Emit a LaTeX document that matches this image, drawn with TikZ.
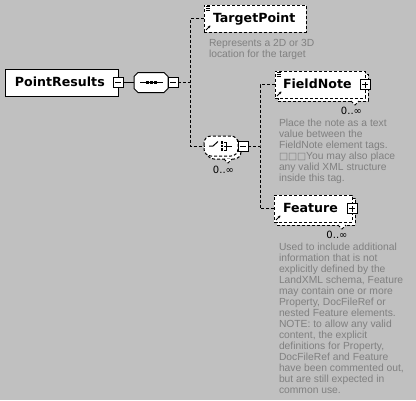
\documentclass[tikz,border=0pt]{standalone}
\usepackage{fontspec}
\setmainfont{Liberation Sans}
\newfontfamily\nmfont{DejaVu Sans}
\usetikzlibrary{arrows.meta}
\definecolor{bgc}{RGB}{192,192,192}
\definecolor{descc}{RGB}{128,128,128}
\newcommand\sq{{\nmfont\fontsize{9.6}{11}\selectfont □}}
\begin{document}
\begin{tikzpicture}[x=1pt,y=-1pt,
  every node/.style={inner sep=0pt, outer sep=0pt},
  ln/.style={line width=1pt},
  dsh/.style={line width=1pt, dash pattern=on 3pt off 2pt},
  ebox/.style={draw, fill=white, line width=1pt, minimum height=27pt},
  nm/.style={font=\nmfont\bfseries\fontsize{12.6}{14}\selectfont, anchor=base west},
  pm/.style={draw, fill=white, line width=1pt, minimum size=10pt},
  minusbox/.style={pm, path picture={\draw[line width=1pt] ([xshift=2pt]path picture bounding box.west) -- ([xshift=-2pt]path picture bounding box.east);}},
  plusbox/.style={pm, path picture={\draw[line width=1pt] ([xshift=2pt]path picture bounding box.west) -- ([xshift=-2pt]path picture bounding box.east) ([yshift=2pt]path picture bounding box.south) -- ([yshift=-2pt]path picture bounding box.north);}},
  desc/.style={font=\fontsize{10.3}{11}\selectfont, text=descc, align=left, anchor=north west},
  occ/.style={font=\nmfont\fontsize{10}{12}\selectfont},
  icl/.style={line width=0.7pt},
  arr/.style={line width=0.9pt, -{Stealth[length=2.6pt,width=2.8pt]}}
]
\fill[bgc] (0,0) rectangle (416,400);
\useasboundingbox (0,0) rectangle (416,400);

% PointResults
\node[ebox, minimum width=113pt] (pr) at (61.5,82.5) {};
\node[nm] (prt) at ([xshift=10pt,yshift=-4pt]pr.west) {PointResults};
\node[minusbox] (prm) at (pr.east) {};

% sequence compositor
\node[minimum width=34pt, minimum height=20pt] (seq) at (151,82.5) {};
\draw[ln, fill=white] ([xshift=4pt]seq.north west) -- ([xshift=-4pt]seq.north east) -- ([yshift=-4pt]seq.north east) -- ([yshift=4pt]seq.south east) -- ([xshift=-4pt]seq.south east) -- ([xshift=4pt]seq.south west) -- ([yshift=4pt]seq.south west) -- ([yshift=-4pt]seq.north west) -- cycle;
\draw[ln] ([xshift=6pt]seq.west) -- ([xshift=-5pt]seq.east);
\foreach \dx in {-4pt,0pt,4pt} \fill ([xshift=\dx]seq.center) ++(-1.5,-1.5) rectangle ++(3,3);
\node[minusbox, anchor=west] (seqm) at (seq.east) {};

% TargetPoint
\node[ebox, dsh, minimum width=102pt] (tp) at (255,18.5) {};
\node[nm] (tpt) at ([xshift=9pt,yshift=-4pt]tp.west) {TargetPoint};
\foreach \yy in {1.8pt,3.4pt,5pt} \draw[icl] ([shift={(1.5pt,-\yy)}]tp.north west) -- ++(4,0);
\draw[arr] ([shift={(2pt,2pt)}]tp.south west) -- ++(4.5,-4.5);
\node[desc] (tpd) at (209,38.9) {Represents a 2D or 3D\\location for the target};

% choice compositor
\node[minimum width=34pt, minimum height=20pt] (ch) at (221,146) {};
\draw[dsh, fill=white, rounded corners=7pt] ([shift={(3pt,-3pt)}]ch.north west) rectangle ([shift={(3pt,-3pt)}]ch.south east);
\draw[dsh, fill=white] ([shift={(-14pt,-3pt)}]ch.south east) -- ++(4,4) -- ++(4,-4);
\draw[dsh, fill=white, rounded corners=7pt] (ch.north west) rectangle (ch.south east);
\draw[ln] (209,146) -- (213,146) -- (218,141.5);
\foreach \yy in {142.5,146,149.5} \fill (220.5,\yy-1.3) rectangle ++(2.6,2.6);
\draw[ln] (224,142) -- (226,142) -- (226,150) -- (224,150) (224,146) -- (232,146);
\node[minusbox, anchor=west] (chm) at (ch.east) {};
\node[occ] (cho) at (223.5,170) {0..∞};

% FieldNote
\node[ebox, dsh, minimum width=90pt] (fnb) at (323,87.5) {};
\draw[dsh, fill=white] ([xshift=-17pt]fnb.south east) -- ++(4,4) -- ++(4,-4);
\node[ebox, dsh, minimum width=90pt] (fn) at (320,84.5) {};
\node[nm] (fnt) at ([xshift=8pt,yshift=-4pt]fn.west) {FieldNote};
\foreach \yy in {1.8pt,3.4pt,5pt} \draw[icl] ([shift={(1.5pt,-\yy)}]fn.north west) -- ++(4,0);
\draw[arr] ([shift={(2pt,2pt)}]fn.south west) -- ++(4.5,-4.5);
\node[plusbox] (fnp) at (fn.east) {};
\node[occ] (fno) at (351.5,111) {0..∞};
\node[desc] (fnd) at (279,118.6) {Place the note as a text\\value between the\\FieldNote element tags.\\\sq\sq\sq You may also place\\any valid XML structure\\inside this tag.};

% Feature
\node[ebox, dsh, minimum width=78pt] (ftb) at (316,211.5) {};
\draw[dsh, fill=white] ([xshift=-17pt]ftb.south east) -- ++(4,4) -- ++(4,-4);
\node[ebox, dsh, minimum width=78pt] (ft) at (313,208.5) {};
\node[nm] (ftt) at ([xshift=9pt,yshift=-4pt]ft.west) {Feature};
\draw[arr] ([shift={(2pt,2pt)}]ft.south west) -- ++(4.5,-4.5);
\node[plusbox] (ftp) at (ft.east) {};
\node[occ] (fto) at (337,235) {0..∞};
\node[desc] (ftd) at (279,242.6) {Used to include additional\\information that is not\\explicitly defined by the\\LandXML schema, Feature\\may contain one or more\\Property, DocFileRef or\\nested Feature elements.\\NOTE: to allow any valid\\content, the explicit\\definitions for Property,\\DocFileRef and Feature\\have been commented out,\\but are still expected in\\common use.};

% connectors
\coordinate (j1) at (190,82.5);
\coordinate (j2) at (260,146);
\draw[ln] (prm.east) -- (seq.west);
\draw[dsh] (seqm.east) -- (j1);
\draw[dsh] (tp.west) -| (j1) |- (ch.west);
\draw[dsh] (chm.east) -- (j2);
\draw[dsh] (fn.west) -| (j2) |- (ft.west);
\end{tikzpicture}
\end{document}
